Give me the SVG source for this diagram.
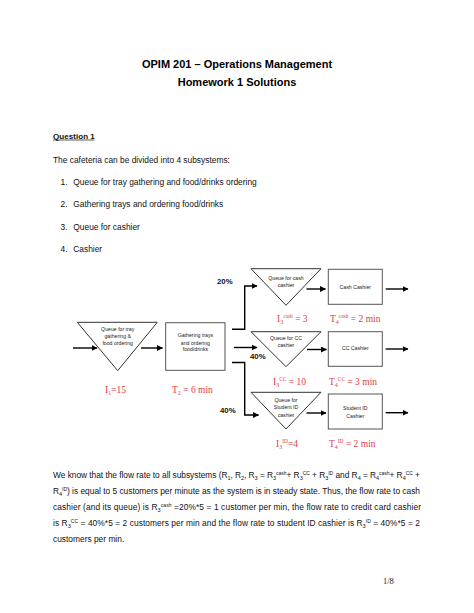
<svg xmlns="http://www.w3.org/2000/svg" width="474" height="613" viewBox="0 0 474 613">
<style>
  .body { font-family: "Liberation Sans", Arial, sans-serif; font-size: 8.4px; fill: #111; }
  .title { font-family: "Liberation Sans", Arial, sans-serif; font-size: 11px; font-weight: bold; fill: #000; text-anchor: middle; }
  .bold { font-family: "Liberation Sans", Arial, sans-serif; font-weight: bold; fill: #111; }
  .small { font-family: "Liberation Sans", Arial, sans-serif; font-size: 5.2px; fill: #222; text-anchor: middle; }
  .red { font-family: "Liberation Serif", "Times New Roman", serif; font-size: 9.5px; fill: #e23a46; }
  .rs { font-size: 6px; }
  .ps { font-size: 5.4px; }
  .tri { fill: #fff; stroke: #333; stroke-width: 1; }
  .box { fill: #fff; stroke: #555; stroke-width: 1; }
  .conn { fill: none; stroke: #000; stroke-width: 1.4; }
  .arr { marker-end: url(#ah); }
  .pg { font-family: "Liberation Serif", "Times New Roman", serif; font-size: 8.5px; fill: #222; }
</style>
<defs>
  <marker id="ah" markerUnits="userSpaceOnUse" markerWidth="6" markerHeight="6" refX="5.5" refY="3" orient="auto">
    <path d="M0,0 L6,3 L0,6 z" fill="#000"/>
  </marker>
</defs>
<rect width="474" height="613" fill="#fff"/>

<text class="title" x="237" y="68">OPIM 201 – Operations Management</text>
<text class="title" x="237" y="86">Homework 1 Solutions</text>

<text class="bold" x="53" y="138.5" font-size="8.1">Question 1</text>
<line x1="53" y1="140" x2="94.3" y2="140" stroke="#111" stroke-width="0.7"/>

<text class="body" x="53" y="162.5">The cafeteria can be divided into 4 subsystems:</text>
<text class="body" x="60.5" y="184.8">1.</text>
<text class="body" x="73.3" y="184.8">Queue for tray gathering and food/drinks ordering</text>
<text class="body" x="60.5" y="207.2">2.</text>
<text class="body" x="73.3" y="207.2">Gathering trays and ordering food/drinks</text>
<text class="body" x="60.5" y="229.6">3.</text>
<text class="body" x="73.3" y="229.6">Queue for cashier</text>
<text class="body" x="60.5" y="252">4.</text>
<text class="body" x="73.3" y="252">Cashier</text>

<g id="connectors">
  <line class="conn arr" x1="73" y1="348" x2="97" y2="348"/>
  <line class="conn arr" x1="141" y1="348" x2="162.5" y2="348"/>
  <polyline class="conn arr" points="232,329.3 244.7,329.3 244.7,286 257,286"/>
  <line class="conn arr" x1="234" y1="347.5" x2="257" y2="347.5"/>
  <polyline class="conn arr" points="232,362.5 244.7,362.5 244.7,415 258.5,415"/>
  <line class="conn arr" x1="306.5" y1="289" x2="325.5" y2="289"/>
  <line class="conn arr" x1="307" y1="349.5" x2="326.5" y2="349.5"/>
  <line class="conn arr" x1="306.5" y1="413" x2="326" y2="413"/>
  <line class="conn arr" x1="385.7" y1="289" x2="408" y2="289"/>
  <line class="conn arr" x1="385.7" y1="349" x2="408" y2="349"/>
  <line class="conn arr" x1="385.7" y1="412.7" x2="408" y2="412.7"/>
</g>

<g id="queue-tray">
  <polygon class="tri" points="77.3,322.3 157.3,322.3 117.7,370.7"/>
  <text class="small" x="117.7" y="330.8">Queue for tray</text>
  <text class="small" x="117.7" y="338">gathering &amp;</text>
  <text class="small" x="117.7" y="345.3">food ordering</text>
</g>
<g id="gathering">
  <rect class="box" x="165.7" y="322.7" width="59.3" height="47.6"/>
  <text class="small" x="195.4" y="336.8">Gathering trays</text>
  <text class="small" x="195.4" y="344.5">and ordering</text>
  <text class="small" x="195.4" y="351.2">food/drinks</text>
</g>
<g id="queue-cash">
  <polygon class="tri" points="251,268.7 321,268.7 286,305.3"/>
  <text class="small" x="286" y="279.5">Queue for cash</text>
  <text class="small" x="286" y="286.5">cashier</text>
</g>
<g id="cash-cashier">
  <rect class="box" x="328.3" y="269.3" width="54" height="35"/>
  <text class="small" x="355.3" y="288.8">Cash Cashier</text>
</g>
<g id="queue-cc">
  <polygon class="tri" points="251,331.7 321,331.7 286,366.7"/>
  <text class="small" x="286" y="340">Queue for CC</text>
  <text class="small" x="286" y="347">cashier</text>
</g>
<g id="cc-cashier">
  <rect class="box" x="328.3" y="331.7" width="54" height="34.6"/>
  <text class="small" x="355.3" y="350">CC Cashier</text>
</g>
<g id="queue-id">
  <polygon class="tri" points="251,392.3 321,392.3 286,429"/>
  <text class="small" x="286" y="401.7">Queue for</text>
  <text class="small" x="286" y="409.4">Student ID</text>
  <text class="small" x="286" y="417">cashier</text>
</g>
<g id="id-cashier">
  <rect class="box" x="328.3" y="394" width="54" height="35"/>
  <text class="small" x="355.3" y="410">Student ID</text>
  <text class="small" x="355.3" y="417.8">Cashier</text>
</g>

<g id="labels">
  <text class="bold" x="217" y="284" font-size="7.8">20%</text>
  <text class="bold" x="250" y="359" font-size="7.8">40%</text>
  <text class="bold" x="220" y="413" font-size="7.8">40%</text>

  <text class="red" x="105" y="393">I<tspan class="rs" dy="1.8">1</tspan><tspan dy="-1.8">=15</tspan></text>
  <text class="red" x="172" y="393">T<tspan class="rs" dy="1.8">2</tspan><tspan dy="-1.8"> = 6 min</tspan></text>

  <text class="red" x="277" y="322">I<tspan class="rs" dy="1.8">3</tspan><tspan class="ps" dy="-5.6">cash</tspan><tspan dy="3.8"> = 3</tspan></text>
  <text class="red" x="330" y="322">T<tspan class="rs" dy="1.8">4</tspan><tspan class="ps" dy="-5.6">cash</tspan><tspan dy="3.8"> = 2 min</tspan></text>

  <text class="red" x="273" y="385">I<tspan class="rs" dy="1.8">3</tspan><tspan class="ps" dy="-5.6">CC</tspan><tspan dy="3.8"> = 10</tspan></text>
  <text class="red" x="329" y="385">T<tspan class="rs" dy="1.8">4</tspan><tspan class="ps" dy="-5.6">CC</tspan><tspan dy="3.8"> = 3 min</tspan></text>

  <text class="red" x="276" y="447">I<tspan class="rs" dy="1.8">3</tspan><tspan class="ps" dy="-5.6">ID</tspan><tspan dy="3.8">=4</tspan></text>
  <text class="red" x="329" y="447">T<tspan class="rs" dy="1.8">4</tspan><tspan class="ps" dy="-5.6">ID</tspan><tspan dy="3.8"> = 2 min</tspan></text>
</g>

<text class="body" x="53" y="478" textLength="367" lengthAdjust="spacing">We know that the flow rate to all subsystems (R<tspan font-size="5.5" dy="1.5">1</tspan><tspan dy="-1.5">, R</tspan><tspan font-size="5.5" dy="1.5">2</tspan><tspan dy="-1.5">, R</tspan><tspan font-size="5.5" dy="1.5">3</tspan><tspan dy="-1.5"> = R</tspan><tspan font-size="5.5" dy="1.5">3</tspan><tspan font-size="5" dy="-4.5">cash</tspan><tspan dy="3">+ R</tspan><tspan font-size="5.5" dy="1.5">3</tspan><tspan font-size="5" dy="-4.5">CC</tspan><tspan dy="3"> + R</tspan><tspan font-size="5.5" dy="1.5">3</tspan><tspan font-size="5" dy="-4.5">ID</tspan><tspan dy="3"> and R</tspan><tspan font-size="5.5" dy="1.5">4</tspan><tspan dy="-1.5"> = R</tspan><tspan font-size="5.5" dy="1.5">4</tspan><tspan font-size="5" dy="-4.5">cash</tspan><tspan dy="3">+ R</tspan><tspan font-size="5.5" dy="1.5">4</tspan><tspan font-size="5" dy="-4.5">CC</tspan><tspan dy="3"> +</tspan></text>
<text class="body" x="53" y="494" textLength="367" lengthAdjust="spacing">R<tspan font-size="5.5" dy="1.5">4</tspan><tspan font-size="5" dy="-4.5">ID</tspan><tspan dy="3">) is equal to 5 customers per minute as the system is in steady state. Thus, the flow rate to cash</tspan></text>
<text class="body" x="53" y="510" textLength="368" lengthAdjust="spacing">cashier (and its queue) is R<tspan font-size="5.5" dy="1.5">3</tspan><tspan font-size="5" dy="-4.5">cash</tspan><tspan dy="3"> =20%*5 = 1 customer per min, the flow rate to credit card cashier</tspan></text>
<text class="body" x="53" y="526" textLength="367" lengthAdjust="spacing">is R<tspan font-size="5.5" dy="1.5">3</tspan><tspan font-size="5" dy="-4.5">CC</tspan><tspan dy="3"> = 40%*5 = 2 customers per min and the flow rate to student ID cashier is R</tspan><tspan font-size="5.5" dy="1.5">3</tspan><tspan font-size="5" dy="-4.5">ID</tspan><tspan dy="3"> = 40%*5 = 2</tspan></text>
<text class="body" x="53" y="542">customers per min.</text>

<text class="pg" x="383" y="584">1/8</text>
</svg>
